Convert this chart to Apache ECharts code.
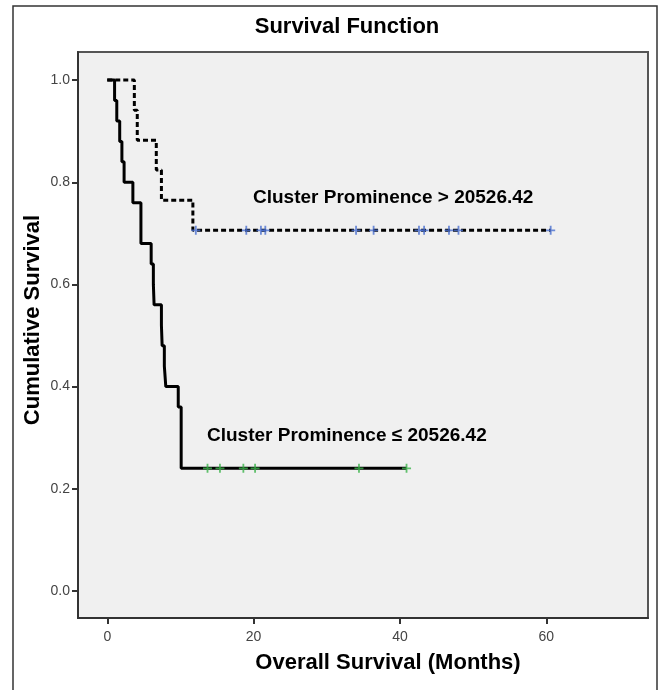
<!DOCTYPE html>
<html>
<head>
<meta charset="utf-8">
<script src="https://cdn.jsdelivr.net/npm/echarts@6/dist/echarts.min.js"></script>
<style>
  html, body { margin: 0; padding: 0; background: #fff; }
  #chart { width: 659px; height: 690px; }
</style>
</head>
<body>
<div id="chart"></div>
<script>
  // Kaplan-Meier curves
  // low group: Cluster Prominence <= 20526.42
  let lowTimes = [0, 1.0, 1.3, 1.7, 2.0, 2.3, 3.5, 4.6, 6.0, 6.3, 6.4, 7.4, 7.5, 7.8, 8.0, 9.7, 10.1, 40.9];
  let lowSurv  = [1.0, 0.96, 0.92, 0.88, 0.84, 0.80, 0.76, 0.68, 0.64, 0.60, 0.56, 0.52, 0.48, 0.44, 0.40, 0.36, 0.24, 0.24];
  let lowCensored = [13.7, 15.4, 18.6, 20.2, 34.4, 40.9];

  // high group: Cluster Prominence > 20526.42
  let highTimes = [0, 3.7, 4.1, 6.7, 7.4, 11.7, 60.6];
  let highSurv  = [1.0, 0.941, 0.882, 0.824, 0.765, 0.706, 0.706];
  let highCensored = [12.1, 19.0, 21.0, 21.6, 34.0, 36.4, 42.6, 43.3, 46.7, 48.0, 60.6];

  let xTicks = [0, 20, 40, 60];
  let yTicks = [0, 0.2, 0.4, 0.6, 0.8, 1.0];

  let font = 'Liberation Sans, Arial, sans-serif';
  let plus = 'path://M4,0h2v4h4v2h-4v4h-2v-4h-4v-2h4z';

  function pairs(xs, ys) {
    return xs.map((x, i) => [x, ys[i]]);
  }
  // censored marks sit on the last level of the curve
  function marks(xs, level) {
    return xs.map(x => [x, level]);
  }

  let chart = echarts.init(document.getElementById('chart'));
  let option = {
    backgroundColor: '#ffffff',
    animation: false,
    grid: {
      left: 78, top: 52, right: 11, bottom: 72,
      show: true,
      backgroundColor: '#f0f0f0',
      borderColor: '#555',
      borderWidth: 2
    },
    xAxis: {
      type: 'value',
      min: -4,
      max: 73.9,
      axisLine: { onZero: false, lineStyle: { color: '#333', width: 2 } },
      axisTick: { customValues: xTicks, length: 6, lineStyle: { color: '#333', width: 2 } },
      axisLabel: { customValues: xTicks, color: '#444', fontSize: 14, fontFamily: font, margin: 12 },
      splitLine: { show: false }
    },
    yAxis: {
      type: 'value',
      min: -0.053,
      max: 1.055,
      axisLine: { onZero: false, lineStyle: { color: '#333', width: 2 } },
      axisTick: { customValues: yTicks, length: 6, lineStyle: { color: '#333', width: 2 } },
      axisLabel: {
        customValues: yTicks, color: '#444', fontSize: 14, fontFamily: font, margin: 8,
        formatter: v => v.toFixed(1)
      },
      splitLine: { show: false }
    },
    series: [
      {
        name: 'low',
        type: 'line',
        step: 'end',
        data: pairs(lowTimes, lowSurv),
        showSymbol: false,
        lineStyle: { color: '#000', width: 3 },
        z: 3
      },
      {
        name: 'high',
        type: 'line',
        step: 'end',
        data: pairs(highTimes, highSurv),
        showSymbol: false,
        lineStyle: { color: '#000', width: 3, type: [5, 3] },
        z: 3
      },
      {
        name: 'lowCensored',
        type: 'scatter',
        data: marks(lowCensored, lowSurv[lowSurv.length - 1]),
        symbol: plus,
        symbolSize: 9,
        itemStyle: { color: '#3cb44b' },
        z: 4
      },
      {
        name: 'highCensored',
        type: 'scatter',
        data: marks(highCensored, highSurv[highSurv.length - 1]),
        symbol: plus,
        symbolSize: 9,
        itemStyle: { color: '#4a6fd0' },
        z: 4
      }
    ],
    graphic: [
      {
        type: 'rect',
        shape: { x: 13, y: 6, width: 644, height: 720 },
        style: { fill: 'none', stroke: '#333', lineWidth: 1.5 },
        silent: true
      },
      {
        type: 'text', x: 347, y: 27,
        style: { text: 'Survival Function', font: 'bold 22px ' + font, fill: '#000', align: 'center', verticalAlign: 'middle' }
      },
      {
        type: 'text', x: 33, y: 320, rotation: Math.PI / 2,
        style: { text: 'Cumulative Survival', font: 'bold 22px ' + font, fill: '#000', align: 'center', verticalAlign: 'middle' }
      },
      {
        type: 'text', x: 388, y: 663,
        style: { text: 'Overall Survival (Months)', font: 'bold 22px ' + font, fill: '#000', align: 'center', verticalAlign: 'middle' }
      },
      {
        type: 'text', x: 253, y: 198,
        style: { text: 'Cluster Prominence > 20526.42', font: 'bold 19px ' + font, fill: '#000', align: 'left', verticalAlign: 'middle' }
      },
      {
        type: 'text', x: 207, y: 436,
        style: { text: 'Cluster Prominence ≤ 20526.42', font: 'bold 19px ' + font, fill: '#000', align: 'left', verticalAlign: 'middle' }
      }
    ]
  };
  chart.setOption(option);
</script>
</body>
</html>
